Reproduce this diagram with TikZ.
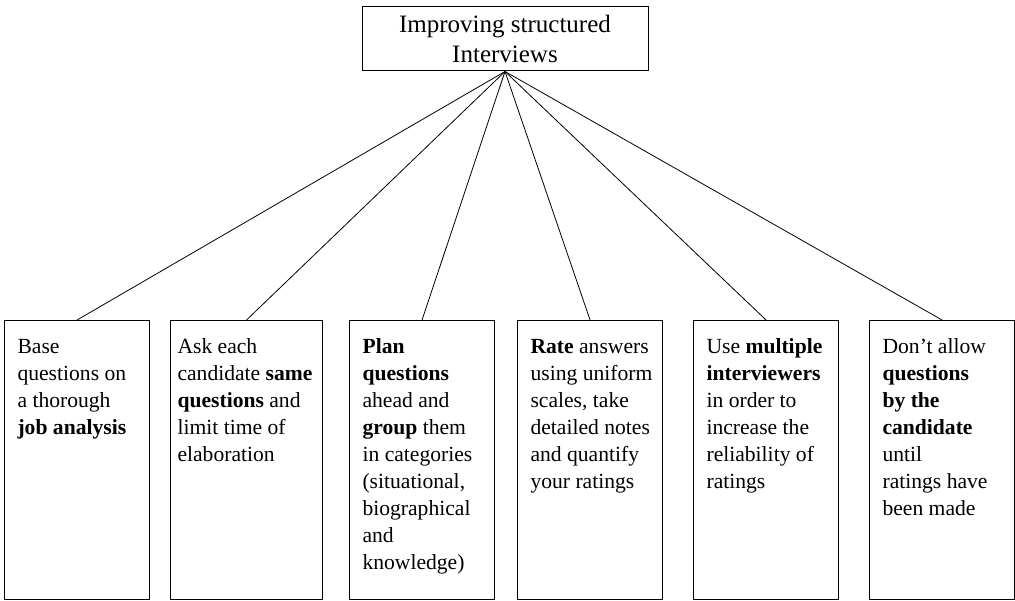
\documentclass[tikz,border=0pt]{standalone}
\usepackage{fontspec}
\setmainfont{Liberation Serif}
\usepackage{tikz}
\usetikzlibrary{positioning}
\newcommand{\tiplines}[3]{\hspace*{#1}\parbox[t][279pt][t]{#2}{\raggedright\fontsize{21.6}{27}\selectfont\rule{0pt}{33pt}#3}}
\tikzset{
  topic/.style={draw, line width=1pt, align=center, font=\fontsize{25}{30}\selectfont, minimum width=286pt, minimum height=64pt, inner sep=0pt},
  tipbox/.style={draw, line width=1.1pt, anchor=north west, inner sep=0pt, minimum height=279pt},
  link/.style={line width=0.8pt}
}
\begin{document}
\begin{tikzpicture}[x=1pt, y=1pt]
  \useasboundingbox (0,0) rectangle (1015,600);
  \node[topic] (top) at (505,561) {Improving structured\\Interviews};

  \node[tipbox] (b1) at (4,280) {\tiplines{13pt}{132pt}{Base\\questions on\\a thorough\\\textbf{job analysis}}};
  \node[tipbox] (b2) at (170,280) {\tiplines{7pt}{145pt}{Ask each\\candidate \textbf{same}\\\textbf{questions} and\\limit time of\\elaboration}};
  \node[tipbox] (b3) at (349,280) {\tiplines{13pt}{132pt}{\textbf{Plan}\\\textbf{questions}\\ahead and\\\textbf{group} them\\in categories\\(situational,\\biographical\\and\\knowledge)}};
  \node[tipbox] (b4) at (517,280) {\tiplines{13pt}{132pt}{\textbf{Rate} answers\\using uniform\\scales, take\\detailed notes\\and quantify\\your ratings}};
  \node[tipbox] (b5) at (693,280) {\tiplines{13pt}{132pt}{Use \textbf{multiple}\\\textbf{interviewers}\\in order to\\increase the\\reliability of\\ratings}};
  \node[tipbox] (b6) at (869,280) {\tiplines{13pt}{132pt}{Don’t allow\\\textbf{questions}\\\textbf{by the}\\\textbf{candidate}\\until\\ratings have\\been made}};

  \foreach \i in {1,...,6}
    \draw[link] (top.south) -- (b\i.north);
\end{tikzpicture}
\end{document}
